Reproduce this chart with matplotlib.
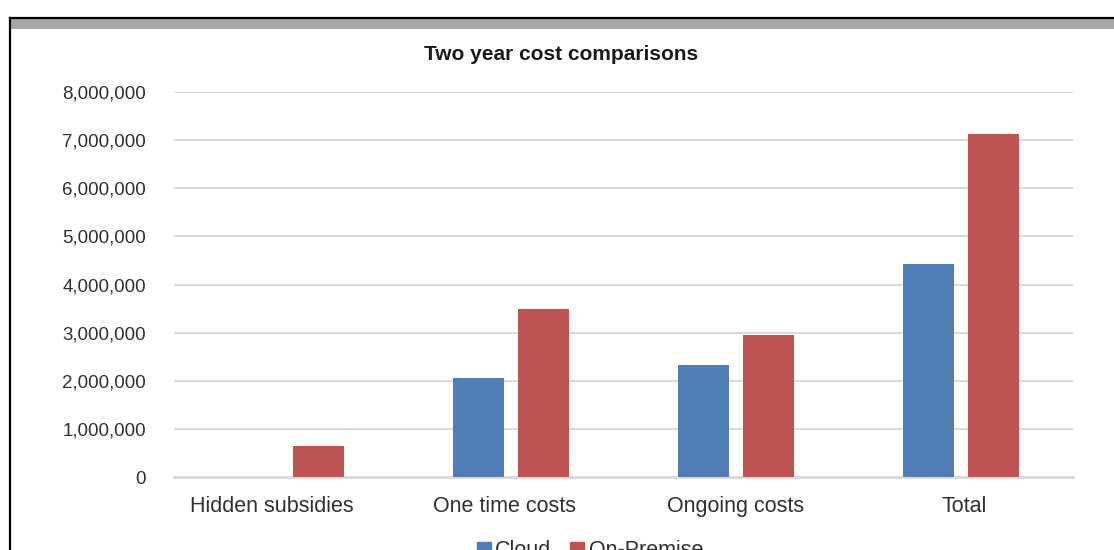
import matplotlib.pyplot as plt
import numpy as np
from matplotlib.patches import Rectangle, Patch
from matplotlib.ticker import FuncFormatter
from matplotlib.transforms import ScaledTranslation

# dados do gráfico
categorias = ["Hidden subsidies", "One time costs", "Ongoing costs", "Total"]
cloud = [0, 2060000, 2330000, 4430000]
on_premise = [640000, 3490000, 2950000, 7130000]
series = ["Cloud", "On-Premise"]

plt.rcParams['font.family'] = ['Liberation Sans', 'DejaVu Sans']
cor_texto = "#303030"
cor_cloud = "#4F7EB6"
cor_onprem = "#BE5451"

fig = plt.figure(figsize=(11.14, 5.5), dpi=100)
ax = fig.add_axes([174 / 1114, 1 - 477 / 550, 899 / 1114, 385 / 550])

x = np.arange(len(categorias))
largura = 0.227
desloc = 0.1446
ax.bar(x - desloc, cloud, largura, color=cor_cloud, zorder=3)
ax.bar(x + desloc, on_premise, largura, color=cor_onprem, zorder=3)

ax.set_xlim(-0.5, len(categorias) - 0.5)
ax.set_ylim(0, 8000000)
ax.set_yticks(np.arange(0, 8000001, 1000000))
ax.yaxis.set_major_formatter(FuncFormatter(lambda v, p: f"{int(v):,}"))
ax.set_xticks(x)
ax.set_xticklabels(categorias, fontsize=15.5, color=cor_texto)
ax.tick_params(axis='y', length=0, pad=20, labelsize=13.5, labelcolor=cor_texto)
ax.tick_params(axis='x', length=0, pad=13.5)

# no original os rótulos não ficam bem centrados
ajustes = [-15, -7, 0, 4]
for lbl, dx in zip(ax.get_xticklabels(), ajustes):
    lbl.set_transform(lbl.get_transform() + ScaledTranslation(dx / 100, 0, fig.dpi_scale_trans))

ax.grid(axis='y', color="#d9d9d9", linewidth=1.4, zorder=0)
for lado in ["top", "right", "left"]:
    ax.spines[lado].set_visible(False)
ax.spines["bottom"].set_color("#d9d9d9")
ax.spines["bottom"].set_linewidth(2)

fig.text(0.5035, 1 - 55 / 550, "Two year cost comparisons", ha="center", va="center",
         fontsize=15, fontweight="bold", color="#1a1a1a")

# moldura em volta
fig.patches.append(Rectangle((10 / 1114, 1 - 29 / 550), 1.0, 11 / 550, transform=fig.transFigure,
                             facecolor="#a6a6a8", edgecolor="none", zorder=1))
fig.add_artist(plt.Line2D([9.5 / 1114, 1], [1 - 17.5 / 550] * 2, color="black", lw=1.6, transform=fig.transFigure))
fig.add_artist(plt.Line2D([9.5 / 1114] * 2, [0, 1 - 17.5 / 550], color="black", lw=1.6, transform=fig.transFigure))

handles = [Patch(color=cor_cloud), Patch(color=cor_onprem)]
fig.legend(handles, series, loc="center", bbox_to_anchor=(0.5295, 1 - 551 / 550), ncol=2,
           frameon=False, fontsize=15.5, handlelength=0.65, handleheight=0.65,
           handletextpad=0.2, columnspacing=0.9, labelcolor=cor_texto)

fig.savefig("out.png", dpi=100)
